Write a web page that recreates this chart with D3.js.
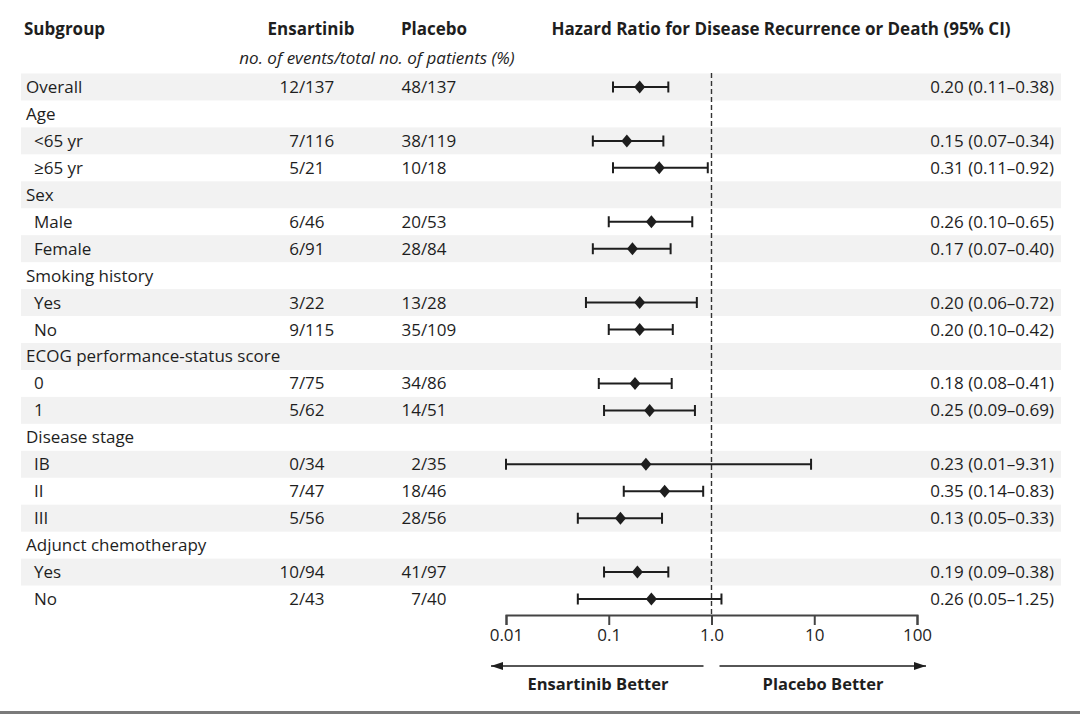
<!DOCTYPE html>
<html>
<head>
<meta charset="utf-8">
<script src="https://cdn.jsdelivr.net/npm/d3@7"></script>
<style>
  html, body { margin: 0; padding: 0; background: #fff; }
  svg { display: block; }
  text { font-family: "Open Sans", "Noto Sans", sans-serif; fill: #1e1e1e; }
</style>
</head>
<body>
<svg id="chart" width="1080" height="714"></svg>
<script>
// rows of the table, top to bottom
const labels = ["Overall", "Age", "<65 yr", "≥65 yr", "Sex", "Male", "Female",
  "Smoking history", "Yes", "No", "ECOG performance-status score", "0", "1",
  "Disease stage", "IB", "II", "III", "Adjunct chemotherapy", "Yes", "No"]
// 0 = heading row, 1 = indented subgroup
const indent = [0, 0, 1, 1, 0, 1, 1, 0, 1, 1, 0, 1, 1, 0, 1, 1, 1, 0, 1, 1]
const ensartinib = ["12/137", "", "7/116", "5/21", "", "6/46", "6/91", "", "3/22", "9/115",
  "", "7/75", "5/62", "", "0/34", "7/47", "5/56", "", "10/94", "2/43"]
const placebo = ["48/137", "", "38/119", "10/18", "", "20/53", "28/84", "", "13/28", "35/109",
  "", "34/86", "14/51", "", "2/35", "18/46", "28/56", "", "41/97", "7/40"]
const hr = [0.20, null, 0.15, 0.31, null, 0.26, 0.17, null, 0.20, 0.20,
  null, 0.18, 0.25, null, 0.23, 0.35, 0.13, null, 0.19, 0.26]
const ciLow = [0.11, null, 0.07, 0.11, null, 0.10, 0.07, null, 0.06, 0.10,
  null, 0.08, 0.09, null, 0.01, 0.14, 0.05, null, 0.09, 0.05]
const ciHigh = [0.38, null, 0.34, 0.92, null, 0.65, 0.40, null, 0.72, 0.42,
  null, 0.41, 0.69, null, 9.31, 0.83, 0.33, null, 0.38, 1.25]
const tickValues = [0.01, 0.1, 1, 10, 100]
const tickLabels = ["0.01", "0.1", "1.0", "10", "100"]

const svg = d3.select("#chart")
const fmt = d3.format(".2f")

const x = d3.scaleLog().domain([0.01, 100]).range([506, 917])
const y = d3.scaleBand().domain(d3.range(labels.length)).range([73.5, 612.5])
const yc = (i) => y(i) + y.bandwidth() / 2

const ink = "#1e1e1e"

// stripes on every other row
svg.append("g").selectAll("rect")
  .data(d3.range(labels.length).filter((i) => i % 2 === 0))
  .join("rect")
    .attr("x", 21)
    .attr("y", (i) => y(i))
    .attr("width", 1040)
    .attr("height", y.bandwidth())
    .attr("fill", "#f2f2f2")

// headers
const head = svg.append("g").style("font-weight", 700).style("font-size", "17px")
head.append("text").attr("x", 24).attr("y", 35).text("Subgroup")
head.append("text").attr("x", 311).attr("y", 35).attr("text-anchor", "middle").text("Ensartinib")
head.append("text").attr("x", 434).attr("y", 35).attr("text-anchor", "middle").text("Placebo")
head.append("text").attr("x", 781).attr("y", 35).attr("text-anchor", "middle")
  .text("Hazard Ratio for Disease Recurrence or Death (95% CI)")
svg.append("text").attr("x", 377).attr("y", 64).attr("text-anchor", "middle")
  .style("font-style", "italic").style("font-size", "17px")
  .text("no. of events/total no. of patients (%)")

// table rows
const rows = svg.append("g").style("font-size", "17px")
  .selectAll("g.row")
  .data(d3.range(labels.length))
  .join("g")
    .attr("class", "row")
    .attr("transform", (i) => `translate(0,${yc(i) + 6})`)

rows.append("text")
  .attr("x", (i) => indent[i] ? 34 : 26)
  .text((i) => labels[i])

// counts aligned on the slash
function counts(sel, arr, slashX) {
  const g = sel.filter((i) => arr[i] !== "")
  g.append("text").attr("x", slashX - 3).attr("text-anchor", "end").text((i) => arr[i].split("/")[0])
  g.append("text").attr("x", slashX).attr("text-anchor", "middle").text("/")
  g.append("text").attr("x", slashX + 3).text((i) => arr[i].split("/")[1])
}
counts(rows, ensartinib, 302)
counts(rows, placebo, 424)

rows.filter((i) => hr[i] !== null)
  .append("text")
    .attr("x", 1054)
    .attr("text-anchor", "end")
    .text((i) => `${fmt(hr[i])} (${fmt(ciLow[i])}–${fmt(ciHigh[i])})`)

// reference line at 1.0
svg.append("line")
  .attr("x1", x(1)).attr("x2", x(1))
  .attr("y1", 73).attr("y2", 615)
  .attr("stroke", "#333").attr("stroke-width", 1.4)
  .attr("stroke-dasharray", "5,3")

// intervals and point estimates
const est = svg.append("g")
  .selectAll("g.est")
  .data(d3.range(labels.length).filter((i) => hr[i] !== null))
  .join("g")
    .attr("class", "est")
    .attr("transform", (i) => `translate(0,${yc(i)})`)

est.append("line")
  .attr("x1", (i) => x(ciLow[i])).attr("x2", (i) => x(ciHigh[i]))
  .attr("stroke", ink).attr("stroke-width", 2)
est.append("path")
  .attr("d", (i) => `M${x(ciLow[i])},-5.5V5.5M${x(ciHigh[i])},-5.5V5.5`)
  .attr("stroke", ink).attr("stroke-width", 2)
est.append("path")
  .attr("d", (i) => `M${x(hr[i])},-6.5L${x(hr[i]) + 5.5},0L${x(hr[i])},6.5L${x(hr[i]) - 5.5},0Z`)
  .attr("fill", ink)

// axis
const axis = svg.append("g")
  .attr("transform", "translate(0,615)")
  .call(d3.axisBottom(x)
    .tickValues(tickValues)
    .tickFormat((d, i) => tickLabels[i])
    .tickSize(10)
    .tickPadding(4))
axis.select(".domain").attr("stroke", "#444").attr("stroke-width", 2)
axis.selectAll(".tick line").attr("stroke", "#444").attr("stroke-width", 2)
axis.selectAll(".tick text")
  .style("font-family", "'Open Sans', sans-serif")
  .style("font-size", "17px")
  .attr("fill", ink)

// direction arrows
const defs = svg.append("defs")
defs.append("marker")
  .attr("id", "arrow")
  .attr("viewBox", "0 0 12 8")
  .attr("refX", 12).attr("refY", 4)
  .attr("markerWidth", 12).attr("markerHeight", 8)
  .attr("markerUnits", "userSpaceOnUse")
  .attr("orient", "auto")
  .append("path")
    .attr("d", "M0,0L12,4L0,8Z")
    .attr("fill", ink)

const arrowY = 666
svg.append("line")
  .attr("x1", x(1) - 8).attr("x2", x(0.01) - 15)
  .attr("y1", arrowY).attr("y2", arrowY)
  .attr("stroke", ink).attr("stroke-width", 1.6)
  .attr("marker-end", "url(#arrow)")
svg.append("line")
  .attr("x1", x(1) + 8).attr("x2", x(100) + 9)
  .attr("y1", arrowY).attr("y2", arrowY)
  .attr("stroke", ink).attr("stroke-width", 1.6)
  .attr("marker-end", "url(#arrow)")

const better = svg.append("g").style("font-weight", 700).style("font-size", "16.5px")
better.append("text").attr("x", 598).attr("y", 690).attr("text-anchor", "middle").text("Ensartinib Better")
better.append("text").attr("x", 823).attr("y", 690).attr("text-anchor", "middle").text("Placebo Better")

// bottom rule
svg.append("rect")
  .attr("x", 0).attr("y", 711)
  .attr("width", 1080).attr("height", 3)
  .attr("fill", "#7a7a7a")
</script>
</body>
</html>
